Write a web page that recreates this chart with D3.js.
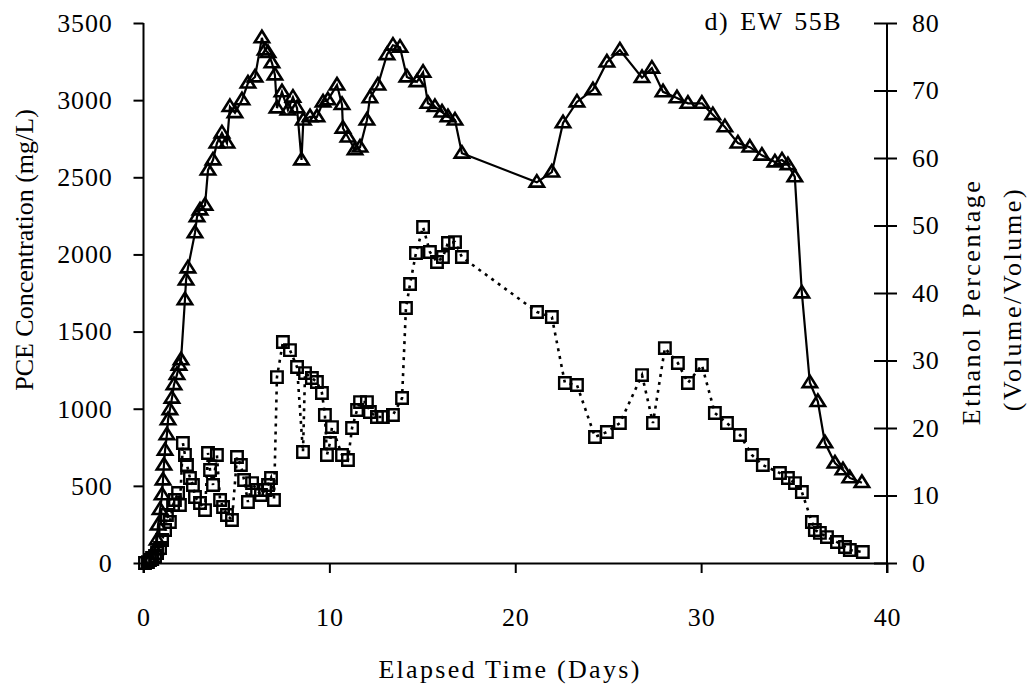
<!DOCTYPE html>
<html>
<head>
<meta charset="utf-8">
<script src="https://cdn.jsdelivr.net/npm/d3@7"></script>
<style>
  body { margin: 0; background: #fff; }
  svg { display: block; }
  svg text { font-family: "Times New Roman", Times, "Liberation Serif", serif; fill: #000; }
</style>
</head>
<body>
<div class="canvas"></div>
<script>
// ethanol series (triangles, right axis, % volume/volume)
const ethanolDays = [
  0.35, 0.62, 0.73, 0.78, 0.89, 1.0, 1.05, 1.1, 1.16, 1.26, 1.32, 1.42, 1.53, 1.64, 1.8, 1.91, 2.02,
  2.23, 2.29, 2.39, 2.77, 2.88, 3.04, 3.31, 3.47, 3.74, 3.95, 4.22, 4.49, 4.65, 4.92, 5.3, 5.62, 6.0,
  6.37, 6.54, 6.7, 6.91, 7.07, 7.18, 7.45, 7.77, 8.04, 8.26, 8.5, 8.6, 8.96, 9.33, 9.66, 9.92, 10.41,
  10.68, 10.73, 11.0, 11.38, 11.65, 12.02, 12.18, 12.61, 13.1, 13.42, 13.8, 14.17, 14.71, 15.04, 15.3,
  15.68, 16.06, 16.38, 16.76, 17.13, 21.16, 21.97, 22.57, 23.32, 24.18, 24.93, 25.63, 26.82, 27.35,
  27.95, 28.7, 29.29, 30.04, 30.63, 31.28, 31.98, 32.62, 33.27, 33.97, 34.35, 34.67, 35.04, 35.42,
  35.85, 36.28, 36.66, 37.2, 37.63, 38.0, 38.65
]
const ethanolPct = [
  0.4, 1.9, 3.4, 5.6, 7.9, 10.1, 12.3, 14.5, 16.7, 19.0, 21.2, 22.7, 24.4, 26.4, 27.9, 29.3, 30.1,
  39.0, 41.9, 43.7, 48.9, 51.3, 52.3, 53.0, 58.2, 59.7, 62.2, 63.7, 62.2, 67.6, 66.7, 68.6, 71.1, 72.0,
  77.8, 76.0, 75.6, 74.1, 72.3, 67.4, 69.8, 67.1, 69.0, 67.4, 59.7, 65.6, 66.1, 66.1, 68.3, 68.6, 70.8,
  67.9, 64.4, 63.1, 61.2, 61.6, 65.6, 68.9, 70.8, 75.3, 76.7, 76.4, 72.0, 71.3, 72.7, 68.1,
  67.6, 66.8, 66.1, 65.6, 60.7, 56.4, 57.9, 65.2, 68.3, 70.1, 74.2, 76.0, 71.9, 73.3,
  69.8, 68.9, 68.1, 68.1, 66.4, 64.6, 62.2, 61.6, 60.4, 59.4, 59.7, 59.0, 57.2, 40.0,
  26.7, 23.9, 17.8, 14.8, 13.8, 12.6, 11.9
]

// PCE series (squares, left axis, mg/L)
const pceDays = [
  0.08, 0.24, 0.35, 0.46, 0.62, 0.73, 0.89, 1.0, 1.16, 1.26, 1.42, 1.59, 1.69, 1.86, 1.96, 2.12,
  2.23, 2.34, 2.5, 2.66, 2.77, 3.04, 3.31, 3.47, 3.58, 3.74, 3.95, 4.12, 4.28, 4.49, 4.76, 5.03,
  5.24, 5.41, 5.62, 5.84, 6.11, 6.32, 6.54, 6.7, 6.86, 7.02, 7.18, 7.5, 7.88, 8.26, 8.58, 8.69,
  9.06, 9.33, 9.6, 9.76, 9.87, 10.03, 10.14, 10.68, 11.0, 11.22, 11.49, 11.65, 12.02, 12.18, 12.56,
  12.88, 13.42, 13.91, 14.12, 14.34, 14.66, 15.04, 15.41, 15.79, 16.11, 16.38, 16.76, 17.13, 21.17,
  21.97, 22.67, 23.32, 24.29, 24.93, 25.63, 26.82, 27.41, 28.05, 28.75, 29.29, 30.04, 30.74, 31.39,
  32.09, 32.73, 33.32, 34.24, 34.67, 35.05, 35.42, 35.96, 36.12, 36.39, 36.77, 37.31, 37.74, 38.0, 38.7
]
const pceConc = [
  0, 6, 19, 32, 45, 65, 97, 149, 214, 311, 266, 376, 408, 454, 376, 778,
  700, 635, 551, 506, 428, 389, 343, 713, 603, 506, 700, 408, 363, 311, 279, 687,
  635, 538, 395, 518, 473, 441, 473, 506, 551, 408, 1205, 1432, 1380, 1270, 719, 1231,
  1199, 1173, 1102, 959, 700, 778, 881, 700, 668, 875, 992, 1043, 1043, 979, 946,
  946, 959, 1069, 1653, 1808, 2009, 2178, 2016, 1951, 1983, 2074, 2080, 1983, 1627,
  1594, 1167, 1154, 817, 849, 907, 1218, 907, 1393, 1296, 1167, 1283, 972, 907,
  830, 700, 635, 583, 551, 518, 460, 266, 214, 195, 168, 136, 104, 84, 71
]

const xTicks = [0, 10, 20, 30, 40]
const leftTicks = [0, 500, 1000, 1500, 2000, 2500, 3000, 3500]
const rightTicks = [0, 10, 20, 30, 40, 50, 60, 70, 80]

const width = 1031
const height = 690
const plot = { left: 143.5, right: 887, top: 23, bottom: 563 }
const serif = '"Times New Roman", Times, "Liberation Serif", serif'

const svg = d3
  .select('.canvas')
  .append('svg')
  .attr('width', width)
  .attr('height', height)

const x = d3.scaleLinear().domain([0, 40]).range([plot.left, plot.right])
const yLeft = d3.scaleLinear().domain([0, 3500]).range([plot.bottom, plot.top])
const yRight = d3.scaleLinear().domain([0, 80]).range([plot.bottom, plot.top])

// axes
const xAxis = svg
  .append('g')
  .attr('transform', `translate(0, ${plot.bottom})`)
  .call(
    d3.axisBottom(x).tickValues(xTicks).tickFormat(d3.format('d'))
      .tickSizeInner(10).tickSizeOuter(0).tickPadding(35)
  )

const leftAxis = svg
  .append('g')
  .attr('transform', `translate(${plot.left}, 0)`)
  .call(
    d3.axisLeft(yLeft).tickValues(leftTicks).tickFormat(d3.format('d'))
      .tickSizeInner(10).tickSizeOuter(0).tickPadding(21)
  )

const rightAxis = svg
  .append('g')
  .attr('transform', `translate(${plot.right}, 0)`)
  .call(
    d3.axisRight(yRight).tickValues(rightTicks).tickFormat(d3.format('d'))
      .tickSizeInner(10).tickSizeOuter(0).tickPadding(15)
  )

// right ticks cross the axis line
rightAxis.selectAll('.tick line').attr('x1', -13).attr('x2', 10)
rightAxis.select('.domain').attr('d', `M0,${plot.top}V${plot.bottom + 10}`)
leftAxis.select('.domain').attr('d', `M0,${plot.top}V${plot.bottom + 10}`)

svg.selectAll('g').attr('font-family', serif)
svg.selectAll('.domain, .tick line').attr('stroke', '#000').attr('stroke-width', 2)
svg
  .selectAll('.tick text')
  .attr('font-size', 26)
  .attr('letter-spacing', 0.8)
  .attr('fill', '#000')

// axis titles
svg
  .append('text')
  .attr('x', 510)
  .attr('y', 678)
  .attr('text-anchor', 'middle')
  .attr('font-size', 26)
  .attr('letter-spacing', 2.3)
  .text('Elapsed Time (Days)')

svg
  .append('text')
  .attr('transform', 'translate(33, 250) rotate(-90)')
  .attr('text-anchor', 'middle')
  .attr('font-size', 26)
  .text('PCE Concentration (mg/L)')

svg
  .append('text')
  .attr('transform', 'translate(980, 302) rotate(-90)')
  .attr('text-anchor', 'middle')
  .attr('font-size', 26)
  .attr('letter-spacing', 2.5)
  .text('Ethanol Percentage')

svg
  .append('text')
  .attr('transform', 'translate(1021, 299) rotate(-90)')
  .attr('text-anchor', 'middle')
  .attr('font-size', 26)
  .attr('letter-spacing', 2.6)
  .text('(Volume/Volume)')

svg
  .append('text')
  .attr('x', 842)
  .attr('y', 30)
  .attr('text-anchor', 'end')
  .attr('font-size', 26)
  .attr('letter-spacing', 1.5)
  .attr('word-spacing', 3)
  .text('d) EW 55B')

// series data
const ethanol = ethanolDays.map((d, i) => ({ day: d, value: ethanolPct[i] }))
const pce = pceDays.map((d, i) => ({ day: d, value: pceConc[i] }))

// PCE: dotted line with hollow squares
const pceLine = d3
  .line()
  .x((d) => x(d.day))
  .y((d) => yLeft(d.value))

svg
  .append('path')
  .datum(pce)
  .attr('d', pceLine)
  .attr('fill', 'none')
  .attr('stroke', '#000')
  .attr('stroke-width', 2.6)
  .attr('stroke-dasharray', '3,5')

svg
  .append('g')
  .selectAll('path')
  .data(pce)
  .enter()
  .append('path')
  .attr('transform', (d) => `translate(${x(d.day)}, ${yLeft(d.value)})`)
  .attr('d', d3.symbol(d3.symbolSquare, 132))
  .attr('fill', 'none')
  .attr('stroke', '#000')
  .attr('stroke-width', 2.4)

// ethanol: solid line with hollow triangles
const ethanolLine = d3
  .line()
  .x((d) => x(d.day))
  .y((d) => yRight(d.value))

svg
  .append('path')
  .datum(ethanol)
  .attr('d', ethanolLine)
  .attr('fill', 'none')
  .attr('stroke', '#000')
  .attr('stroke-width', 2.2)

// flat triangle: 15px wide, 12px tall
const flatTriangle = {
  draw(context, size) {
    const w = Math.sqrt(size) * 1.25
    const h = w * 0.8
    context.moveTo(0, -h * 0.62)
    context.lineTo(w / 2, h * 0.38)
    context.lineTo(-w / 2, h * 0.38)
    context.closePath()
  },
}

svg
  .append('g')
  .selectAll('path')
  .data(ethanol)
  .enter()
  .append('path')
  .attr('transform', (d) => `translate(${x(d.day)}, ${yRight(d.value)})`)
  .attr('d', d3.symbol(flatTriangle, 132))
  .attr('fill', 'none')
  .attr('stroke', '#000')
  .attr('stroke-width', 2.6)
  .attr('stroke-linejoin', 'miter')
</script>
</body>
</html>
